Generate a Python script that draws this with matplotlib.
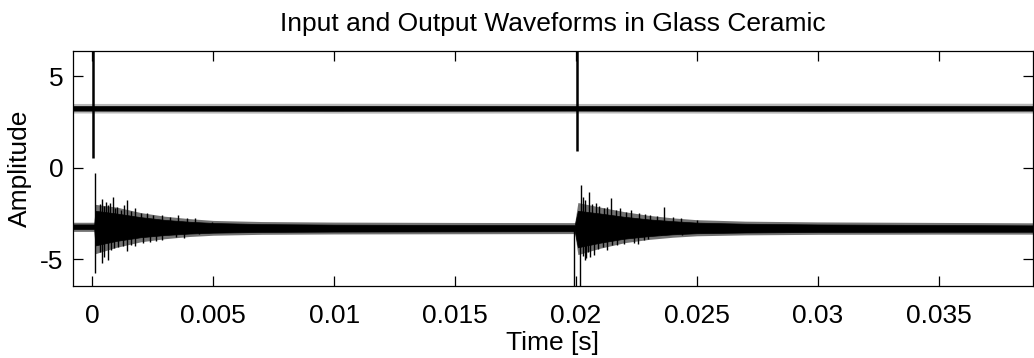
import matplotlib
matplotlib.use("Agg")
import matplotlib.pyplot as plt

plt.rcParams.update({
    "font.family": ["Liberation Sans", "DejaVu Sans"],
    "font.size": 19,
    "axes.unicode_minus": False,
})

# input trace: noise band around +3.25 and the two excitation pulses
in_t = [-0.0008, 0.0100, 0.0200, 0.0300, 0.0389]
in_top = [3.38, 3.39, 3.38, 3.39, 3.38]
in_bot = [3.13, 3.12, 3.13, 3.12, 3.13]
in_outer_top = [3.52, 3.53, 3.52, 3.54, 3.53]
in_outer_bot = [3.00, 2.99, 3.00, 2.99, 3.00]
pulse_t = [0.00003, 0.02003]
pulse_low = [0.53, 0.93]

# output trace: envelope of the dense noise band (knots)
out_t = [-0.0008, 0.00008, 0.00012, 0.0010, 0.0020, 0.0030, 0.0040, 0.0050,
         0.0070, 0.0100, 0.0150, 0.01995, 0.02008, 0.0210, 0.0220, 0.0230,
         0.0240, 0.0250, 0.0270, 0.0300, 0.0350, 0.0389]
out_top = [-3.10, -3.10, -2.35, -2.50, -2.70, -2.85, -2.95, -3.02,
           -3.08, -3.11, -3.13, -3.14, -2.35, -2.50, -2.68, -2.82,
           -2.92, -3.00, -3.06, -3.10, -3.13, -3.15]
out_bot = [-3.35, -3.35, -4.25, -4.00, -3.80, -3.68, -3.60, -3.55,
           -3.51, -3.49, -3.48, -3.47, -4.35, -4.10, -3.88, -3.74,
           -3.64, -3.58, -3.54, -3.51, -3.50, -3.50]
out_outer_top = [-2.98, -2.98, -2.00, -2.15, -2.45, -2.65, -2.78, -2.88,
                 -2.94, -2.97, -2.99, -3.00, -1.90, -2.15, -2.40, -2.60,
                 -2.74, -2.84, -2.92, -2.96, -2.99, -3.01]
out_outer_bot = [-3.48, -3.48, -4.70, -4.35, -4.05, -3.88, -3.76, -3.69,
                 -3.64, -3.62, -3.61, -3.60, -4.75, -4.40, -4.10, -3.92,
                 -3.80, -3.72, -3.67, -3.64, -3.63, -3.63]

# individual ringing spikes sticking out of the band
spike_t = [0.00013, 0.00030, 0.00038, 0.00047, 0.00055, 0.00063, 0.00072,
           0.00084, 0.00095, 0.00103, 0.00120, 0.00132, 0.00144, 0.00160,
           0.00176, 0.00200, 0.00224, 0.00250, 0.00286, 0.00320, 0.00355,
           0.00390, 0.00424, 0.00494,
           0.02020, 0.02030, 0.02039, 0.02056, 0.02068, 0.02081, 0.02095,
           0.02115, 0.02130, 0.02147, 0.02165, 0.02184, 0.02205, 0.02226,
           0.02260, 0.02285, 0.02308, 0.02335, 0.02364, 0.02400, 0.02433,
           0.02502]
spike_hi = [-0.31, -2.00, -1.73, -2.10, -1.86, -2.05, -1.95,
            -1.59, -2.20, -2.13, -2.30, -2.05, -1.77, -2.35,
            -2.22, -2.50, -2.49, -2.60, -2.59, -2.70, -2.59,
            -2.75, -2.77, -2.95,
            -0.95, -1.60, -1.77, -1.31, -2.00, -1.95, -2.10,
            -2.22, -2.15, -1.64, -2.30, -2.22, -2.40, -2.31,
            -2.46, -2.55, -2.59, -2.65, -2.13, -2.70, -2.77,
            -2.86]
dip_t = [0.00013, 0.00030, 0.00040, 0.00050, 0.00065, 0.00078, 0.00090,
         0.00105, 0.00125, 0.00145, 0.00160, 0.00175, 0.00210, 0.00240,
         0.00265, 0.00290, 0.00345, 0.00380, 0.00440,
         0.01990, 0.02018, 0.02028, 0.02036, 0.02040, 0.02050, 0.02060,
         0.02075, 0.02090, 0.02110, 0.02130, 0.02150, 0.02170, 0.02200,
         0.02240, 0.02255, 0.02280, 0.02300, 0.02350, 0.02440]
dip_lo = [-5.78, -4.60, -5.23, -4.87, -5.05, -4.50, -4.41,
          -4.32, -4.30, -4.54, -4.20, -4.29, -4.10, -4.05,
          -4.00, -3.96, -3.81, -3.85, -3.63,
          -7.00, -7.00, -4.80, -5.05, -4.96, -4.60, -4.87,
          -4.78, -4.45, -4.32, -4.50, -4.25, -4.23, -4.15,
          -4.14, -4.17, -3.95, -3.87, -3.68, -3.68]

fig = plt.figure(figsize=(10.34, 3.58), dpi=100)
ax = fig.add_axes([0.0706, 0.201, 0.9284, 0.657])

ax.fill_between(in_t, in_outer_bot, in_outer_top, color="0.72", linewidth=0)
ax.fill_between(in_t, in_bot, in_top, color="black", linewidth=0.5)
ax.vlines(pulse_t, pulse_low, 8, color="black", linewidth=1.8)

ax.fill_between(out_t, out_outer_bot, out_outer_top, color="0.45", linewidth=0)
ax.fill_between(out_t, out_bot, out_top, color="black", linewidth=0.5)
ax.vlines(spike_t, -3.25, spike_hi, color="black", linewidth=1.0)
ax.vlines(dip_t, -3.25, dip_lo, color="black", linewidth=1.0)

ax.set_xlim(-0.0008, 0.0389)
ax.set_ylim(-6.47, 6.4)
ax.set_xticks([0, 0.005, 0.01, 0.015, 0.02, 0.025, 0.03, 0.035])
ax.set_xticklabels(["0", "0.005", "0.01", "0.015", "0.02", "0.025", "0.03", "0.035"])
ax.set_yticks([-5, 0, 5])
ax.set_yticklabels(["-5", "0", "5"])
ax.tick_params(direction="in", length=7, width=0.9, top=True, right=True)
ax.tick_params(axis="x", pad=13)
ax.tick_params(axis="y", pad=7)
for s in ax.spines.values():
    s.set_linewidth(0.9)

ax.set_xlabel("Time [s]", labelpad=2)
ax.set_ylabel("Amplitude", labelpad=6)
ax.set_title("Input and Output Waveforms in Glass Ceramic", fontsize=19, pad=14)

fig.savefig("out.png", dpi=100)
